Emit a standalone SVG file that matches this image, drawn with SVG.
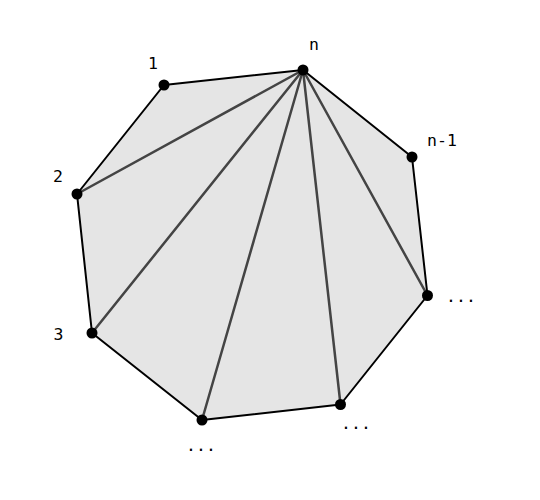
<svg xmlns="http://www.w3.org/2000/svg" width="540" height="500" viewBox="0 0 540 500">
<style>
.edge{stroke:#000;stroke-width:2;fill:none;stroke-linecap:round}
.diag{stroke:#444;stroke-width:2.5;fill:none;stroke-linecap:round}
.v{fill:#000}
.lbl{font-family:"DejaVu Sans Mono","Liberation Mono",monospace;font-size:16.5px;fill:#000;text-anchor:middle}
</style>
<rect width="540" height="500" fill="#fff"/>
<polygon points="303,70 164,85 77,194 92,333 202,420 340.5,404.5 427.5,295.5 412,157" fill="#e5e5e5" stroke="none"/>
<g id="connectors">
<line class="diag" x1="303" y1="70" x2="77" y2="194"/>
<line class="diag" x1="303" y1="70" x2="92" y2="333"/>
<line class="diag" x1="303" y1="70" x2="202" y2="420"/>
<line class="diag" x1="303" y1="70" x2="340.5" y2="404.5"/>
<line class="diag" x1="303" y1="70" x2="427.5" y2="295.5"/>
<line class="edge" x1="303" y1="70" x2="164" y2="85"/>
<line class="edge" x1="164" y1="85" x2="77" y2="194"/>
<line class="edge" x1="77" y1="194" x2="92" y2="333"/>
<line class="edge" x1="92" y1="333" x2="202" y2="420"/>
<line class="edge" x1="202" y1="420" x2="340.5" y2="404.5"/>
<line class="edge" x1="340.5" y1="404.5" x2="427.5" y2="295.5"/>
<line class="edge" x1="427.5" y1="295.5" x2="412" y2="157"/>
<line class="edge" x1="412" y1="157" x2="303" y2="70"/>
</g>
<g id="node-n"><circle class="v" cx="303" cy="70" r="5.5"/><text class="lbl" x="314" y="50">n</text></g>
<g id="node-1"><circle class="v" cx="164" cy="85" r="5.5"/><text class="lbl" x="153" y="69">1</text></g>
<g id="node-2"><circle class="v" cx="77" cy="194" r="5.5"/><text class="lbl" x="58" y="182">2</text></g>
<g id="node-3"><circle class="v" cx="92" cy="333" r="5.5"/><text class="lbl" x="58.5" y="340">3</text></g>
<g id="node-4"><circle class="v" cx="202" cy="420" r="5.5"/><text class="lbl" x="201" y="451">...</text></g>
<g id="node-5"><circle class="v" cx="340.5" cy="404.5" r="5.5"/><text class="lbl" x="356" y="429">...</text></g>
<g id="node-6"><circle class="v" cx="427.5" cy="295.5" r="5.5"/><text class="lbl" x="461" y="301.5">...</text></g>
<g id="node-n-1"><circle class="v" cx="412" cy="157" r="5.5"/><text class="lbl" x="442" y="146">n-1</text></g>
</svg>
